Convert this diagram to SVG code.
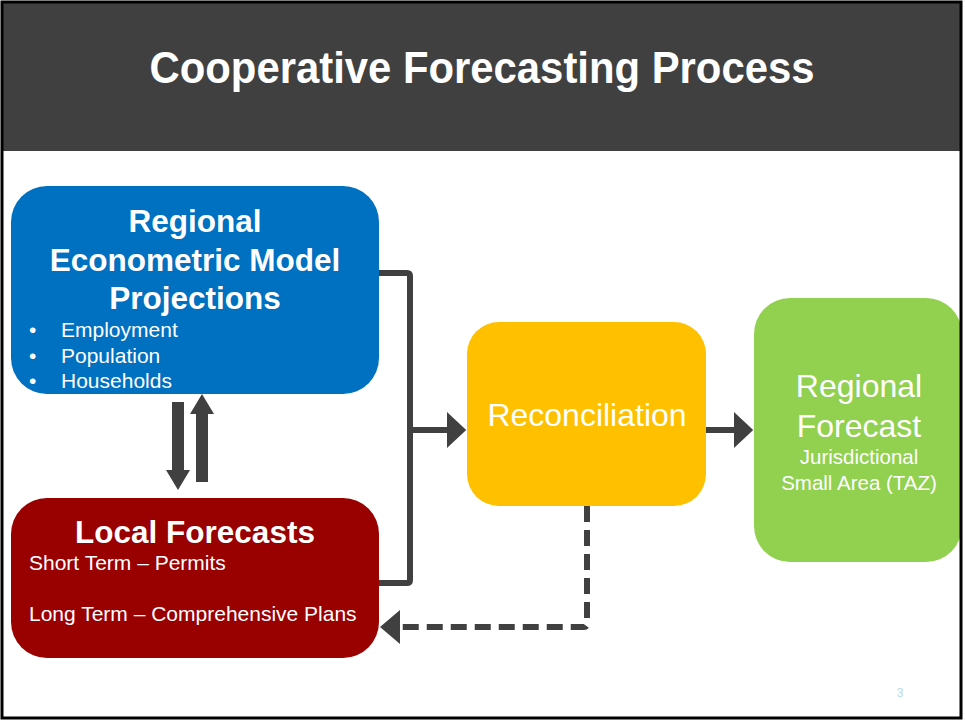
<svg xmlns="http://www.w3.org/2000/svg" width="965" height="721" viewBox="0 0 965 721">
<defs>
<style>
.t{font-family:"Liberation Sans",Arial,sans-serif;fill:#fff}
.b{font-weight:bold;font-size:31.5px;text-anchor:middle}
.s{font-size:21px}
.con{fill:none;stroke:#404040;stroke-width:6}
</style>
<marker id="ah" markerWidth="4" markerHeight="6" refX="0" refY="3" orient="auto" markerUnits="strokeWidth">
<path d="M0,0 L3.2,3 L0,6 Z" fill="#404040"/>
</marker>
</defs>
<rect x="0" y="0" width="965" height="721" fill="#fff"/>
<g id="header">
<rect x="3" y="3" width="958" height="148" fill="#404040"/>
<text x="482" y="83" font-family="Liberation Sans Narrow,Liberation Sans,Arial,sans-serif" font-weight="bold" font-size="45" fill="#fff" text-anchor="middle" textLength="665" lengthAdjust="spacingAndGlyphs">Cooperative Forecasting Process</text>
</g>
<g id="regional-model">
<rect x="11" y="186" width="368" height="208" rx="36" fill="#0070C0"/>
<text class="t b" x="195" y="232">Regional</text>
<text class="t b" x="195" y="271">Econometric Model</text>
<text class="t b" x="195" y="309">Projections</text>
<text class="t s" x="29" y="337">•</text>
<text class="t s" x="61" y="337">Employment</text>
<text class="t s" x="29" y="363">•</text>
<text class="t s" x="61" y="363">Population</text>
<text class="t s" x="29" y="388">•</text>
<text class="t s" x="61" y="388">Households</text>
</g>
<g id="local-forecasts">
<rect x="11" y="498" width="368" height="160" rx="36" fill="#990000"/>
<text class="t b" x="195" y="543">Local Forecasts</text>
<text class="t s" x="29" y="570">Short Term – Permits</text>
<text class="t s" x="29" y="621">Long Term – Comprehensive Plans</text>
</g>
<g id="reconciliation">
<rect x="467" y="322" width="239" height="184" rx="32" fill="#FFC000"/>
<text class="t" x="587" y="426" font-size="32" text-anchor="middle">Reconciliation</text>
</g>
<g id="regional-forecast">
<rect x="754" y="298" width="208" height="264" rx="36" fill="#92D050"/>
<text class="t" x="859" y="397" font-size="32" text-anchor="middle">Regional</text>
<text class="t" x="859" y="437" font-size="32" text-anchor="middle">Forecast</text>
<text class="t" x="859" y="464" font-size="20.5" text-anchor="middle">Jurisdictional</text>
<text class="t" x="859" y="490" font-size="20.5" text-anchor="middle">Small Area (TAZ)</text>
</g>
<g id="connectors">
<path class="con" d="M379,273 L407,273 Q410,273 410,276 L410,580 Q410,583 407,583 L379,583"/>
<path class="con" d="M410,430 L447,430" marker-end="url(#ah)"/>
<path class="con" d="M706,430 L734,430" marker-end="url(#ah)"/>
<polygon fill="#404040" points="172,402 184,402 184,470 190,470 178,490 166,470 172,470"/>
<polygon fill="#404040" points="196,482 208,482 208,414 214,414 202,394 190,414 196,414"/>
<path class="con" d="M587,506 L587,624 Q587,627 584,627 L400,627" stroke-dasharray="16,8"/>
<polygon fill="#404040" points="380,627 400,610 400,644"/>
</g>
<text x="900" y="697" font-family="Liberation Sans,Arial,sans-serif" font-size="12" fill="#B4DDE8" text-anchor="middle">3</text>
<rect x="2" y="2" width="959" height="716" fill="none" stroke="#000" stroke-width="3"/>
</svg>
